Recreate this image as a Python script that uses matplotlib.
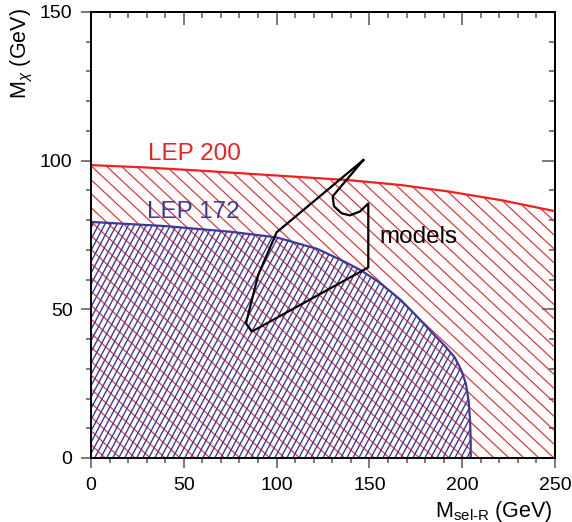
"""Exclusion contours in the (M_sel-R, M_chi) plane: LEP 172 vs LEP 200 reach."""

import numpy as np
import matplotlib

matplotlib.use("Agg")
import matplotlib.pyplot as plt
from matplotlib.patches import Polygon
from matplotlib.collections import LineCollection
from matplotlib.ticker import MultipleLocator

# ---------------------------------------------------------------------------
# Data
# ---------------------------------------------------------------------------

lep200_x = [0, 30, 60, 100, 140, 167, 193, 222, 250]
lep200_y = [98.5, 97.7, 96.6, 95.0, 93.4, 91.8, 89.6, 86.6, 83.0]

lep172_x = [0, 40, 75, 100, 122, 135, 145, 155, 167, 175, 184, 191, 196, 199.5,
            202, 203.5, 204.3, 204.6, 204.6]
lep172_y = [79.4, 78.0, 76.1, 74.2, 70.3, 66.5, 63.3, 59.2, 53.1, 48.0, 42.0,
            37.5, 33.8, 29.5, 25.0, 19.0, 12.0, 5.0, 0]

model_x = [146.7, 100.0, 90.1, 83.5, 86.6, 149.4, 149.4, 144.9, 139.5, 135.0, 130.9, 130.2, 146.7]
model_y = [100.2, 75.9, 61.6, 45.3, 42.5, 64.1, 85.6, 82.9, 81.6, 82.3, 84.7, 88.0, 100.2]

RED = "#ee2020"
BLUE = "#3a3a9c"

plt.rcParams["font.family"] = ["Liberation Sans", "DejaVu Sans"]
plt.rcParams["mathtext.fontset"] = "custom"
plt.rcParams["mathtext.rm"] = "Liberation Sans"
plt.rcParams["mathtext.it"] = "Liberation Sans:italic"


def hatch(ax, xs, ys, angle, spacing, color, lw):
    """Fill region under a curve with straight hatch lines at *angle* (pixel space)."""
    verts = [(xs[0], 0)] + list(zip(xs, ys)) + [(xs[-1], 0)]
    clip = Polygon(verts, closed=True, facecolor="none", edgecolor="none")
    ax.add_patch(clip)

    bb = ax.get_window_extent()
    W, H = bb.width, bb.height
    a = np.deg2rad(angle)
    d = np.array([np.cos(a), np.sin(a)])
    n = np.array([-np.sin(a), np.cos(a)])
    c = np.array([W / 2, H / 2])
    R = np.hypot(W, H) / 2 + spacing
    segs = []
    for k in np.arange(-R, R, spacing):
        p0 = c + k * n - R * d
        p1 = c + k * n + R * d
        segs.append([(p0[0] / W, p0[1] / H), (p1[0] / W, p1[1] / H)])
    lc = LineCollection(segs, colors=color, linewidths=lw, transform=ax.transAxes)
    lc.set_clip_path(clip)
    ax.add_collection(lc)


fig = plt.figure(figsize=(5.72, 5.22), dpi=100)
ax = fig.add_axes([91 / 572, 64 / 522, 464 / 572, 446 / 522])
ax.set_xlim(0, 250)
ax.set_ylim(0, 150)

hatch(ax, lep200_x, lep200_y, -43, 10.2, RED, 0.8)
hatch(ax, lep172_x, lep172_y, 62, 5.3, BLUE, 1.0)

ax.plot(lep200_x, lep200_y, color=RED, lw=1.6)
ax.plot(lep172_x, lep172_y, color=BLUE, lw=1.6)
ax.plot(model_x, model_y, color="black", lw=1.6)

ax.text(30.5, 100.2, "LEP 200", color=RED, fontsize=17.5)
ax.text(30.0, 80.6, "LEP 172", color=BLUE, fontsize=17.5)
ax.text(155.3, 72.2, "models", color="black", fontsize=17.5)

# ticks: outward on left/bottom, inward on top/right
for s in ax.spines.values():
    s.set_linewidth(1.4)
ax.xaxis.set_major_locator(MultipleLocator(50))
ax.xaxis.set_minor_locator(MultipleLocator(10))
ax.yaxis.set_major_locator(MultipleLocator(50))
ax.yaxis.set_minor_locator(MultipleLocator(10))
ax.tick_params(which="both", direction="out", color="#555555", width=1.1,
               labelsize=14, top=False, right=False)
ax.tick_params(which="major", length=7.5)
ax.tick_params(which="minor", length=3.6)
ax.tick_params(axis="x", pad=6.5)
ax.tick_params(axis="y", pad=5.8)

secx = ax.secondary_xaxis("top")
secy = ax.secondary_yaxis("right")
for sec, axis in ((secx, secx.xaxis), (secy, secy.yaxis)):
    axis.set_major_locator(MultipleLocator(50))
    axis.set_minor_locator(MultipleLocator(10))
    sec.tick_params(which="both", direction="in", color="#555555", width=1.1,
                    labelleft=False, labelright=False, labeltop=False, labelbottom=False)
    sec.tick_params(which="major", length=9.2)
    sec.tick_params(which="minor", length=4.3)
    for s in sec.spines.values():
        s.set_linewidth(1.4)

fig.text(22 / 572, 1 - 8 / 522, r"M$_\chi$ (GeV)", rotation=90,
         ha="center", va="top", fontsize=15.5)
fig.text(553 / 572, 4.7 / 522, r"M$_{\mathrm{sel\text{-}R}}$ (GeV)",
         ha="right", va="baseline", fontsize=15.5)

fig.savefig("out.png", dpi=100)
